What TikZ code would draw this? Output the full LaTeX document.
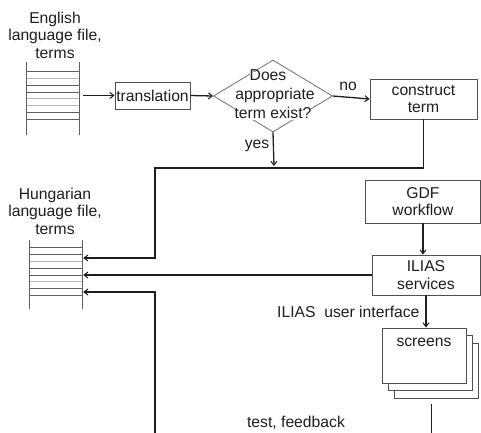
\documentclass[tikz,border=0pt]{standalone}
\usepackage{fontspec}
\setmainfont{Liberation Sans}
\usetikzlibrary{arrows.meta,shapes.geometric,calc}
\definecolor{ink}{HTML}{1E1E1E}
\definecolor{boxline}{HTML}{505050}
\definecolor{diamline}{HTML}{707070}
\definecolor{rowdark}{HTML}{606060}
\definecolor{rowlight}{HTML}{B8B8B8}

\begin{document}
\begin{tikzpicture}[x=1pt,y=-1pt,
  every node/.style={font=\fontsize{15.7}{17.5}\selectfont, text=ink, align=center},
  procbox/.style={draw=boxline, line width=0.9pt, fill=white, inner sep=0pt},
  decision/.style={draw=diamline, line width=0.8pt, shape=diamond, inner sep=0pt},
  dectextline/.style={fill=white, inner sep=0pt, text height=8.5pt, text depth=1.5pt},
  filebox/.style={inner sep=0pt, minimum width=52pt},
  fileside/.style={draw=rowdark, line width=0.9pt},
  rowd/.style={draw=rowdark, line width=0.9pt},
  rowl/.style={draw=rowlight, line width=0.9pt},
  flow/.style={draw=ink, line width=1.3pt},
  arr/.style={flow, -{Straight Barb[length=4pt,width=6pt,line width=1pt]}}
]
\useasboundingbox (0,0) rectangle (481,432);

% ---- English source file ----
\node (englabel) at (55,35) {English\\language file,\\terms};
\node[filebox, minimum height=73pt] (eng) at (53,98.5) {};
\draw[fileside] (eng.north west) -- (eng.south west);
\draw[fileside] (eng.north east) -- (eng.south east);
\foreach \dy/\st in {10/rowd,17/rowl,24/rowd,31/rowd,37/rowl,44/rowl,51/rowd,58/rowd}
  \draw[\st] ($(eng.north west)+(0,\dy)$) -- ($(eng.north east)+(0,\dy)$);

% ---- translation step and decision ----
\node[procbox, minimum width=75pt, minimum height=27pt] (trans) at (152.5,95.5) {translation};
\node[decision, minimum width=119pt, minimum height=72pt] (dec) at (273,96) {};
\node[dectextline] (decq1) at (268,77) {Does};
\node[dectextline] (decq2) at (275,96) {appropriate};
\node[dectextline] (decq3) at (273,115) {term exist?};
\node[procbox, minimum width=107pt, minimum height=40pt] (cons) at (423.5,99) {construct\\term};

\draw[arr, shorten <=4pt] (eng.east |- trans.west) -- (trans.west);
\draw[arr] (trans.east) -- (dec.west);
\draw[arr] (dec.east) -- (cons.west);
\node (nolabel) at (348,86) {no};

\coordinate (yesend) at (274,166);
\draw[arr] (dec.south) -- (yesend);
\node (yeslabel) at (257,146) {yes};

% ---- Hungarian target file ----
\node (hunlabel) at (55,211) {Hungarian\\language file,\\terms};
\node[filebox, minimum height=69pt] (hun) at (56,274.5) {};
\draw[fileside] (hun.north west) -- (hun.south west);
\draw[fileside] (hun.north east) -- (hun.south east);
\foreach \dy/\st in {8/rowd,15/rowd,22/rowl,29/rowd,36/rowd,42/rowl,49/rowd,56/rowd}
  \draw[\st] ($(hun.north west)+(0,\dy)$) -- ($(hun.north east)+(0,\dy)$);

% new terms go into the Hungarian file
\coordinate (bendR) at (423.5,168);
\coordinate (bendL) at (155,168);
\draw[arr, shorten >=1pt] (cons.south) -- (bendR) -- (bendL) |- ([yshift=16.5pt]hun.east);

% ---- GDF workflow and ILIAS ----
\node[procbox, minimum width=115pt, minimum height=43pt] (gdf) at (423,201.5) {GDF\\workflow};
\node[procbox, minimum width=108pt, minimum height=40pt] (ilias) at (426,275) {ILIAS\\services};
\draw[arr] (gdf.south) -- (gdf.south |- ilias.north);
\draw[arr, shorten >=1pt] (ilias.west) -- (ilias.west -| hun.east);

% ---- screens ----
\node[procbox, minimum width=84pt, minimum height=55pt] (scr3) at (436,370.5) {};
\node[procbox, minimum width=84pt, minimum height=55pt] (scr2) at (430,362.5) {};
\node[procbox, minimum width=84pt, minimum height=55pt] (scr) at (424,355.5) {};
\node (scrlabel) at ([yshift=-15pt]scr.north) {screens};
\draw[arr] (ilias.south) -- (ilias.south |- scr.north);
\node[anchor=east] (uilabel) at (423,312) {ILIAS~~user interface};

% ---- test and feedback loop ----
\coordinate (fbstart) at (431.5,404);
\coordinate (fbend) at (431.5,434);
\coordinate (fbleft) at (155,434);
\draw[flow] (fbstart) -- (fbend);
\draw[arr, shorten >=1pt] (fbleft) |- ([yshift=-17.5pt]hun.east);
\node (fblabel) at (296,423) {test, feedback};
\end{tikzpicture}
\end{document}
